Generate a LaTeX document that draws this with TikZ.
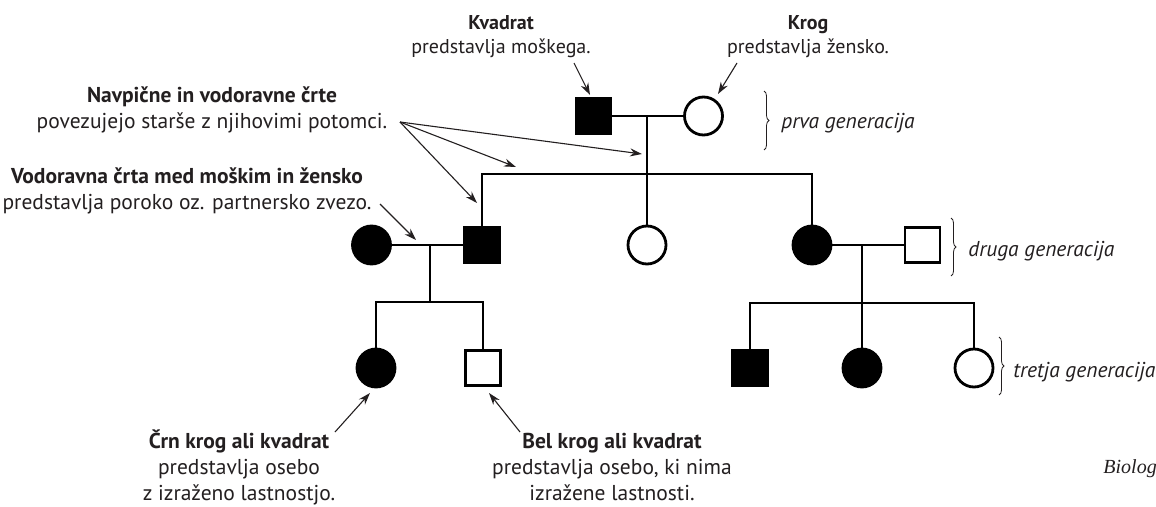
\documentclass[tikz,border=0pt]{standalone}
\usepackage{fontspec}
\setmainfont{PT Sans}
\newfontfamily\refserif{Liberation Serif}
\usetikzlibrary{arrows.meta,decorations.pathreplacing,calc}
\definecolor{ink}{HTML}{231F20}

\begin{document}
\begin{tikzpicture}[x=1pt,y=-1pt,
  line width=2.8pt,
  male/.style={draw=black,rectangle,minimum size=35pt,inner sep=0pt,fill=white},
  female/.style={draw=black,circle,minimum size=38pt,inner sep=0pt,fill=white},
  aff/.style={fill=black},
  note/.style={align=center,inner sep=0pt,text=ink,anchor=base},
  small/.style={font=\fontsize{20}{24}\selectfont},
  large/.style={font=\fontsize{21.5}{26}\selectfont},
  genlab/.style={anchor=base west,inner sep=0pt,text=ink,font=\fontsize{21.5}{26}\selectfont\itshape},
  ptr/.style={draw=ink,line width=1.1pt,-{Stealth[length=12pt,width=8pt]}},
  brc/.style={draw=ink,line width=0.8pt,decorate,decoration={brace,amplitude=5pt}}
]
\fill[white] (0,0) rectangle (1156,506);
\useasboundingbox (0,0) rectangle (1156,506);

% ---- individuals ----
\node[male,aff]   (g1m) at (593.5,116) {};
\node[female]     (g1f) at (703.5,116) {};
\node[female,aff] (g2a) at (371.5,245) {};
\node[male,aff]   (g2b) at (482,245) {};
\node[female]     (g2c) at (647,245) {};
\node[female,aff] (g2d) at (812,245) {};
\node[male]       (g2e) at (922.5,245) {};
\node[female,aff] (g3a) at (376,368) {};
\node[male]       (g3b) at (483,368) {};
\node[male,aff]   (g3c) at (750,368) {};
\node[female,aff] (g3d) at (862,368) {};
\node[female]     (g3e) at (974,368) {};

% ---- couples and sibships ----
\coordinate (j1) at (647,116);
\coordinate (s1) at (647,174);
\coordinate (j2) at (430,245);
\coordinate (s2) at (430,302);
\coordinate (j3) at (862,245);
\coordinate (s3) at (862,303);

\draw (g1m) -- (g1f);
\draw (j1) -- (g2c);
\draw (g2b.north) |- (s1) -| (g2d.north);

\draw (g2a) -- (g2b);
\draw (j2) -- (s2);
\draw (g3a.north) |- (s2) -| (g3b.north);

\draw (g2d) -- (g2e);
\draw (j3) -- (g3d);
\draw (g3c.north) |- (s3) -| (g3e.north);

% ---- generation braces ----
\draw[brc] (764,91) -- (764,150);
\draw[brc] (951,218) -- (951,276);
\draw[brc] (999,337) -- (999,395);
\node[genlab] (gen1) at (780,128) {prva generacija};
\node[genlab] (gen2) at (967,256) {druga generacija};
\node[genlab] (gen3) at (1012,377) {tretja generacija};

% ---- explanatory labels (anchored at the last baseline) ----
\node[note,small] (kvadrat) at (501,53) {\textbf{Kvadrat}\\predstavlja moškega.};
\node[note,small] (krog) at (808,53) {\textbf{Krog}\\predstavlja žensko.};
\node[note,large] (crte) at (212,128) {\textbf{Navpične in vodoravne črte}\\povezujejo starše z njihovimi potomci.};
\node[note,large] (poroka) at (187,209) {\textbf{Vodoravna črta med moškim in žensko}\\predstavlja poroko oz. partnersko zvezo.};
\node[note,large] (crn) at (239,500) {\textbf{Črn krog ali kvadrat}\\predstavlja osebo\\z izraženo lastnostjo.};
\node[note,large] (bel) at (612,500) {\textbf{Bel krog ali kvadrat}\\predstavlja osebo, ki nima\\izražene lastnosti.};
\node[anchor=base west,inner sep=0pt,text=ink,font=\refserif\itshape\fontsize{20}{24}\selectfont] (vir) at (1102,473) {Biolog};

% ---- pointers ----
\coordinate (kvT) at (574,63);  \coordinate (kvH) at (590,95);
\coordinate (krT) at (737,63);  \coordinate (krH) at (718,94);
\coordinate (crT) at (400,122);
\coordinate (crH1) at (642,154);
\coordinate (crH2) at (516,167);
\coordinate (crH3) at (477,203);
\coordinate (poT) at (380,204); \coordinate (poH) at (416,240);
\coordinate (cnT) at (335,432); \coordinate (cnH) at (370,393);
\coordinate (blT) at (520,432); \coordinate (blH) at (489,393);

\draw[ptr] (kvT) -- (kvH);
\draw[ptr] (krT) -- (krH);
\draw[ptr] (crT) -- (crH1);
\draw[ptr] (crT) -- (crH2);
\draw[ptr] (crT) -- (crH3);
\draw[ptr] (poT) -- (poH);
\draw[ptr] (cnT) -- (cnH);
\draw[ptr] (blT) -- (blH);
\end{tikzpicture}
\end{document}
